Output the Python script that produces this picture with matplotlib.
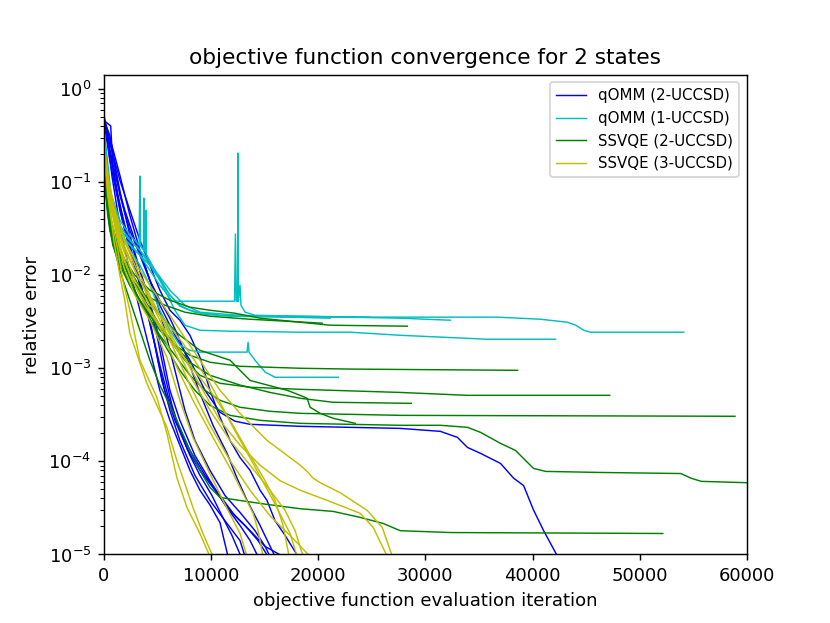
import matplotlib
matplotlib.use("Agg")
import matplotlib.pyplot as plt

# ---------------- data: qOMM (2-UCCSD) ----------------
b1_it = [0, 560, 1030, 1500, 2430, 3370, 4300, 5230, 6640, 8040, 9440, 10840, 12240, 13650, 18320, 27660, 31400, 32990, 33930, 35140, 37010, 38230, 39160, 40090, 41030, 42340]
b1_err = [0.46, 0.32, 0.152, 0.0725, 0.0305, 0.0164, 0.0088, 0.00476, 0.00226, 0.00122, 0.00058, 0.000337, 0.00027, 0.00025, 0.000238, 0.000226, 0.00021, 0.000181, 0.000141, 0.000122, 9.5e-5, 6.6e-5, 5.5e-5, 3.0e-5, 1.8e-5, 9.5e-6]
b2_it = [0, 370, 750, 1120, 1500, 1960, 2430, 2900, 3370, 3830, 4300, 4770, 5230, 5700, 6170, 7100, 8040, 8970, 9910, 10840, 11590]
b2_err = [0.488, 0.283, 0.119, 0.064, 0.0345, 0.0186, 0.0113, 0.0069, 0.0042, 0.00256, 0.00156, 0.00095, 0.00058, 0.0004, 0.000276, 0.000149, 8.0e-5, 4.9e-5, 3.4e-5, 2.2e-5, 9.5e-6]
b3_it = [0, 560, 1030, 1500, 2430, 3370, 4110, 4770, 5420, 6170, 7100, 8500, 9910, 11310, 12710, 13180]
b3_err = [0.442, 0.221, 0.105, 0.05, 0.0186, 0.0078, 0.00371, 0.00177, 0.00074, 0.000354, 0.000168, 7.1e-5, 3.8e-5, 2.3e-5, 1.41e-5, 9.5e-6]
b4_it = [0, 650, 840, 1310, 1960, 2900, 3830, 4770, 5510, 6170, 7100, 8500, 9910, 11310, 12710, 13650, 14390]
b4_err = [0.46, 0.40, 0.152, 0.0725, 0.0345, 0.0164, 0.0078, 0.00328, 0.00138, 0.00058, 0.000276, 0.000116, 6.2e-5, 3.4e-5, 2.05e-5, 1.41e-5, 9.5e-6]
b5_it = [0, 560, 1310, 1960, 2900, 3830, 4770, 5700, 6640, 7570, 8500, 9910, 11310, 12710, 14110, 15050, 15510]
b5_err = [0.488, 0.221, 0.0928, 0.05, 0.0238, 0.0128, 0.0061, 0.00256, 0.00095, 0.000354, 0.000168, 8.0e-5, 4.3e-5, 2.83e-5, 1.8e-5, 1.22e-5, 9.5e-6]
b6_it = [0, 750, 1500, 2430, 3370, 4300, 5230, 6170, 7100, 8040, 8970, 9910, 10840, 11780, 12710, 13650, 14580, 15230, 15980, 16920, 17660, 18130]
b6_err = [0.41, 0.221, 0.105, 0.05, 0.0238, 0.0128, 0.0069, 0.0042, 0.00328, 0.00226, 0.00131, 0.00058, 0.000298, 0.000168, 0.00011, 8.0e-5, 4.9e-5, 3.8e-5, 2.3e-5, 1.6e-5, 1.16e-5, 9.5e-6]
b7_it = [0, 750, 1500, 2430, 3370, 4300, 5230, 6170, 6820, 7850, 8970, 10190, 11500, 12430, 13370, 14580, 15980]
b7_err = [0.464, 0.25, 0.119, 0.0442, 0.0186, 0.0088, 0.00538, 0.00345, 0.00238, 0.00122, 0.00054, 0.000244, 0.000122, 6.6e-5, 3.8e-5, 2.05e-5, 9.5e-6]
b8_it = [0, 560, 1120, 1680, 2430, 3370, 4300, 5050, 5700, 6360, 7100, 8040, 8970, 10090, 11030, 11960, 12800]
b8_err = [0.525, 0.283, 0.135, 0.064, 0.0269, 0.0113, 0.00476, 0.002, 0.00084, 0.0004, 0.000215, 0.000116, 7.1e-5, 4.3e-5, 2.6e-5, 1.6e-5, 9.5e-6]
b9_it = [0, 560, 1220, 1960, 2900, 3830, 4580, 5230, 5980, 6920, 8040, 9440, 10840, 12240, 13650, 15050, 16730]
b9_err = [0.464, 0.172, 0.0725, 0.0305, 0.0128, 0.00538, 0.00226, 0.00108, 0.000512, 0.000244, 0.000131, 7.1e-5, 4.3e-5, 2.6e-5, 1.8e-5, 1.22e-5, 9.5e-6]
b10_it = [0, 470, 1030, 1680, 2430, 3370, 4300, 5050, 5700, 6640, 7850, 8970, 10370, 11780, 13180, 14390, 15330]
b10_err = [0.488, 0.25, 0.105, 0.0442, 0.021, 0.0088, 0.00328, 0.00122, 0.00058, 0.000276, 0.000131, 8.0e-5, 4.9e-5, 2.97e-5, 2.05e-5, 1.41e-5, 9.5e-6]

# ---------------- data: qOMM (1-UCCSD) ----------------
c1_it = [0, 560, 1030, 1500, 2430, 3370, 4300, 5230, 6170, 7100, 8040, 9440, 11780, 18320, 27660, 36730, 40750, 43270, 44020, 44770, 45420, 54110]
c1_err = [0.362, 0.0725, 0.0442, 0.0305, 0.0238, 0.0186, 0.0128, 0.00884, 0.0061, 0.00476, 0.0042, 0.00381, 0.00362, 0.00354, 0.00354, 0.00354, 0.00336, 0.00312, 0.0029, 0.00256, 0.00244, 0.00244]
c2_it = [0, 560, 1500, 2430, 3370, 4300, 5230, 5980, 6360, 8970, 12200, 12280, 12360, 12480, 12520, 12560, 12710, 12800, 13180, 14110, 18320, 27660, 32340]
c2_err = [0.32, 0.064, 0.0269, 0.021, 0.0164, 0.0113, 0.0078, 0.0061, 0.00525, 0.00525, 0.00525, 0.0276, 0.00525, 0.00525, 0.205, 0.00525, 0.0078, 0.00476, 0.004, 0.00371, 0.00362, 0.00345, 0.00328]
c3_it = [0, 560, 1500, 2430, 3300, 3365, 3430, 3700, 3740, 3780, 3890, 3925, 3960, 4770, 5700, 6640, 7570, 8970, 11780, 18320, 22990, 27660, 35800, 42150]
c3_err = [0.381, 0.082, 0.039, 0.0269, 0.021, 0.116, 0.0205, 0.0186, 0.0673, 0.0182, 0.0175, 0.05, 0.0168, 0.0113, 0.0069, 0.0042, 0.0029, 0.00256, 0.0025, 0.00244, 0.00244, 0.00226, 0.00205, 0.00205]
c4_it = [0, 560, 1500, 2430, 3370, 4300, 5230, 6170, 7100, 8040, 8970, 13370, 13460, 13550, 14110, 15050, 15980, 18320, 21870]
c4_err = [0.345, 0.0566, 0.0269, 0.0186, 0.0128, 0.0078, 0.0042, 0.00256, 0.00177, 0.00156, 0.00149, 0.00149, 0.0019, 0.00149, 0.00122, 0.00091, 0.0008, 0.0008, 0.0008]
c5_it = [0, 560, 1500, 2430, 3370, 4300, 5230, 6170, 7100, 8500, 10840, 18320, 24860]
c5_err = [0.362, 0.082, 0.0345, 0.0238, 0.0186, 0.0138, 0.00928, 0.0061, 0.00464, 0.004, 0.00371, 0.00362, 0.00354]
c6_it = [0, 750, 1960, 3370, 4770, 6170, 7570, 8970, 13650, 21120]
c6_err = [0.381, 0.064, 0.0245, 0.0164, 0.0113, 0.0069, 0.00476, 0.004, 0.00362, 0.00345]

# ---------------- data: SSVQE (2-UCCSD) ----------------
g1_it = [0, 370, 750, 1310, 1960, 2900, 4300, 6170, 8040, 9910, 12240, 14580, 18320, 21120, 28320]
g1_err = [0.152, 0.064, 0.0345, 0.021, 0.0145, 0.01, 0.0069, 0.00538, 0.00453, 0.0042, 0.0039, 0.00345, 0.00312, 0.0029, 0.00283]
g2_it = [0, 370, 940, 1680, 2620, 3830, 5700, 7570, 9910, 13650, 20370]
g2_err = [0.135, 0.05, 0.0238, 0.0145, 0.00884, 0.0061, 0.00476, 0.004, 0.00362, 0.00336, 0.00305]
g3_it = [0, 370, 840, 1500, 2430, 3370, 4300, 5230, 6640, 8040, 9910, 12710, 18320, 22990, 38600]
g3_err = [0.152, 0.0442, 0.021, 0.0128, 0.0078, 0.00538, 0.00371, 0.00256, 0.00177, 0.00138, 0.00116, 0.00105, 0.001, 0.00098, 0.00095]
g4_it = [0, 560, 1310, 2240, 3370, 4770, 6170, 7570, 8970, 10840, 13650, 18320, 27660, 33930, 47200]
g4_err = [0.119, 0.0345, 0.0164, 0.00884, 0.00538, 0.00328, 0.002, 0.00122, 0.00084, 0.00069, 0.000625, 0.000594, 0.00055, 0.000512, 0.000512]
g5_it = [0, 560, 1310, 2430, 3830, 5230, 6640, 8040, 9910, 12710, 15510, 18320, 21400, 28690]
g5_err = [0.135, 0.039, 0.0186, 0.01, 0.00538, 0.0029, 0.00177, 0.00116, 0.00084, 0.00066, 0.00055, 0.000476, 0.000431, 0.00042]
g6_it = [0, 560, 1310, 2430, 3830, 5230, 7100, 8970, 11780, 13650, 17100, 18320, 18970, 19250, 20190, 21400, 23460]
g6_err = [0.141, 0.0442, 0.021, 0.0113, 0.0061, 0.00371, 0.00226, 0.00156, 0.00122, 0.00074, 0.00058, 0.000512, 0.000476, 0.000381, 0.000328, 0.00029, 0.000256]
g7_it = [0, 560, 1500, 2430, 3830, 5230, 6640, 8040, 9440, 10840, 12710, 15510, 18320, 27660, 58880]
g7_err = [0.128, 0.0345, 0.0145, 0.0078, 0.0042, 0.00226, 0.00138, 0.00084, 0.00058, 0.000453, 0.000381, 0.000345, 0.000328, 0.000312, 0.000305]
g8_it = [0, 560, 1500, 2900, 4300, 5700, 7100, 8500, 9910, 11780, 14580, 18320, 27660, 31400, 33930, 35140, 37010, 38410, 39350, 40090, 41220, 46360, 53830, 54770, 55730, 60000]
g8_err = [0.135, 0.039, 0.0164, 0.0069, 0.00328, 0.00177, 0.00095, 0.00058, 0.0004, 0.000312, 0.000276, 0.000256, 0.000244, 0.000244, 0.000232, 0.000205, 0.000156, 0.000131, 0.000102, 8.4e-5, 7.8e-5, 7.6e-5, 7.4e-5, 6.6e-5, 6.1e-5, 5.9e-5]
g9_it = [0, 560, 1500, 2430, 3370, 4300, 5230, 6170, 6820, 8040, 8970, 9910, 10840, 12710, 15230, 18320, 21400, 23930, 26080, 27660, 32340, 52150]
g9_err = [0.119, 0.0305, 0.0113, 0.00538, 0.00256, 0.00122, 0.00066, 0.0004, 0.000276, 0.000131, 8.0e-5, 5.25e-5, 4.1e-5, 3.8e-5, 3.45e-5, 3.1e-5, 2.9e-5, 2.5e-5, 2.15e-5, 1.8e-5, 1.72e-5, 1.68e-5]

# ---------------- data: SSVQE (3-UCCSD) ----------------
ya_it = [0, 370, 1030, 1960, 3370, 5230, 7100, 8970, 10840, 12710, 15230, 17100, 18320, 19070, 19530, 20190, 22060, 24580, 25980, 26920]
ya_err = [0.283, 0.119, 0.05, 0.0238, 0.0113, 0.00538, 0.00256, 0.00122, 0.00058, 0.000328, 0.000168, 0.000116, 9.1e-5, 7.6e-5, 6.6e-5, 5.9e-5, 4.6e-5, 2.97e-5, 1.95e-5, 9.5e-6]
yb_it = [0, 370, 1030, 1960, 3370, 5230, 7100, 8970, 10840, 12710, 14580, 16450, 18320, 21400, 23930, 25140, 26450]
yb_err = [0.25, 0.0928, 0.039, 0.0186, 0.00884, 0.00371, 0.00156, 0.00066, 0.000276, 0.000149, 9.1e-5, 6.2e-5, 4.9e-5, 3.6e-5, 2.76e-5, 1.95e-5, 9.5e-6]
yc_it = [0, 560, 1500, 2900, 4300, 6170, 8040, 9910, 11780, 13650, 15510, 16920, 17850, 18600]
yc_err = [0.269, 0.082, 0.0305, 0.0128, 0.0061, 0.00226, 0.00084, 0.000354, 0.000168, 9.1e-5, 4.9e-5, 2.97e-5, 1.8e-5, 9.5e-6]
yd_it = [0, 560, 1500, 2900, 4300, 6170, 8040, 9910, 11780, 13650, 15510, 17380, 19250]
yd_err = [0.221, 0.0725, 0.0269, 0.0113, 0.00538, 0.002, 0.00066, 0.000244, 0.000102, 4.9e-5, 2.6e-5, 1.6e-5, 9.5e-6]
ye_it = [0, 370, 750, 1310, 1780, 2430, 3370, 4950, 5890, 6820, 7760, 8970, 9910]
ye_err = [0.25, 0.082, 0.039, 0.0186, 0.00884, 0.0042, 0.00122, 0.000488, 0.0002, 6.7e-5, 3.2e-5, 1.68e-5, 9.5e-6]
yf_it = [0, 370, 940, 1500, 1960, 2430, 4020, 5890, 6820, 8320, 9250, 10190]
yf_err = [0.221, 0.0725, 0.0238, 0.01, 0.00538, 0.00238, 0.00069, 0.000232, 0.000102, 3.2e-5, 1.68e-5, 9.5e-6]
yg_it = [0, 560, 1310, 1960, 2900, 4300, 5890, 7100, 8320, 9630, 11120, 12710, 13370]
yg_err = [0.283, 0.064, 0.0238, 0.0113, 0.0061, 0.00328, 0.00131, 0.000453, 0.000181, 8.6e-5, 3.8e-5, 1.68e-5, 9.5e-6]
yh_it = [0, 560, 1500, 2430, 3830, 5230, 6820, 8320, 10190, 12060, 13930, 14400, 14860]
yh_err = [0.232, 0.064, 0.021, 0.01, 0.00476, 0.00276, 0.00103, 0.000453, 0.000181, 7.4e-5, 2.76e-5, 1.8e-5, 9.5e-6]
yi_it = [0, 560, 1500, 2900, 4300, 5700, 7380, 9910, 12060, 13930, 15800, 17380, 18040]
yi_err = [0.269, 0.0725, 0.0238, 0.0088, 0.00476, 0.00328, 0.00186, 0.00069, 0.000232, 9.5e-5, 3.8e-5, 1.68e-5, 9.5e-6]
yj_it = [0, 750, 1500, 2900, 4300, 6170, 8040, 9910, 11780, 13650, 15050, 15980, 16730, 17290]
yj_err = [0.25, 0.05, 0.0186, 0.0078, 0.0042, 0.002, 0.00108, 0.00058, 0.000276, 0.000116, 6.2e-5, 3.8e-5, 2.05e-5, 9.5e-6]

groups = [
    ("qOMM (2-UCCSD)", "b", [(b1_it, b1_err), (b2_it, b2_err), (b3_it, b3_err), (b4_it, b4_err), (b5_it, b5_err),
                             (b6_it, b6_err), (b7_it, b7_err), (b8_it, b8_err), (b9_it, b9_err), (b10_it, b10_err)]),
    ("qOMM (1-UCCSD)", "c", [(c1_it, c1_err), (c2_it, c2_err), (c3_it, c3_err), (c4_it, c4_err), (c5_it, c5_err), (c6_it, c6_err)]),
    ("SSVQE (2-UCCSD)", "g", [(g1_it, g1_err), (g2_it, g2_err), (g3_it, g3_err), (g4_it, g4_err), (g5_it, g5_err),
                              (g6_it, g6_err), (g7_it, g7_err), (g8_it, g8_err), (g9_it, g9_err)]),
    ("SSVQE (3-UCCSD)", "y", [(ya_it, ya_err), (yb_it, yb_err), (yc_it, yc_err), (yd_it, yd_err), (ye_it, ye_err),
                              (yf_it, yf_err), (yg_it, yg_err), (yh_it, yh_err), (yi_it, yi_err), (yj_it, yj_err)]),
]

fig = plt.figure(figsize=(830 / 130, 623 / 130), dpi=130)
ax = fig.add_subplot(111)
for label, color, curves in groups:
    for i, (xs, ys) in enumerate(curves):
        ax.plot(xs, ys, color=color, lw=0.8, label=label if i == 0 else None)

ax.set_yscale("log")
ax.set_xlim(0, 60000)
ax.set_ylim(1e-5, 1.42)
ax.set_title("objective function convergence for 2 states")
ax.set_xlabel("objective function evaluation iteration")
ax.set_ylabel("relative error")
ax.legend(loc="upper right", fontsize="small")
fig.savefig("out.png", dpi=130)
